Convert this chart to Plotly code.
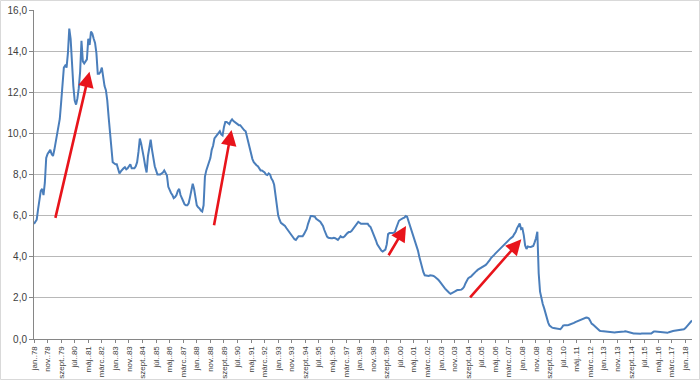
import plotly.graph_objects as go

# Monthly values, jan.1978 ... jun.2018
y1978 = [5.6, 5.7, 5.8, 6.3, 6.9, 7.2, 7.3, 7.0, 7.6, 8.8, 9.0, 9.1]
y1979 = [9.2, 9.0, 8.9, 9.2, 9.6, 10.0, 10.4, 10.7, 11.5, 12.4, 13.2, 13.3]
y1980 = [13.2, 13.9, 15.1, 14.6, 13.3, 12.3, 11.6, 11.4, 11.7, 12.2, 13.0, 14.5]
y1981 = [13.5, 13.4, 13.5, 13.6, 14.6, 14.3, 14.95, 14.85, 14.6, 14.4, 13.9, 12.9]
y1982 = [12.9, 13.0, 13.2, 12.7, 12.3, 12.1, 11.6, 10.8, 10.0, 9.3, 8.6, 8.55]
y1983 = [8.5, 8.5, 8.2, 8.05, 8.15, 8.25, 8.3, 8.35, 8.25, 8.3, 8.4, 8.5]
y1984 = [8.3, 8.3, 8.3, 8.4, 8.6, 9.1, 9.75, 9.5, 9.2, 8.8, 8.4, 8.1]
y1985 = [8.9, 9.4, 9.7, 9.2, 8.7, 8.4, 8.2, 8.0, 8.0, 8.0, 8.05, 8.1]
y1986 = [8.2, 8.1, 7.95, 7.4, 7.2, 7.1, 7.0, 6.85, 6.9, 7.0, 7.2, 7.3]
y1987 = [7.0, 6.8, 6.7, 6.55, 6.5, 6.5, 6.6, 6.9, 7.3, 7.55, 7.3, 6.9]
y1988 = [6.5, 6.4, 6.35, 6.25, 6.2, 6.5, 7.9, 8.2, 8.4, 8.6, 8.8, 9.2]
y1989 = [9.4, 9.75, 9.85, 9.9, 10.0, 10.1, 9.95, 9.9, 10.3, 10.55, 10.55, 10.5]
y1990 = [10.45, 10.6, 10.68, 10.6, 10.55, 10.5, 10.45, 10.4, 10.4, 10.3, 10.2, 10.15]
y1991 = [10.1, 9.8, 9.5, 9.2, 8.9, 8.75, 8.6, 8.5, 8.45, 8.4, 8.3, 8.2]
y1992 = [8.2, 8.15, 8.1, 8.0, 7.97, 8.05, 8.0, 7.8, 7.7, 7.5, 6.9, 6.45]
y1993 = [6.0, 5.8, 5.65, 5.6, 5.55, 5.5, 5.4, 5.3, 5.2, 5.1, 5.06, 4.95]
y1994 = [4.85, 4.82, 4.9, 5.0, 5.0, 5.0, 5.0, 5.1, 5.2, 5.35, 5.6, 5.85]
y1995 = [5.98, 5.98, 5.95, 5.95, 5.85, 5.8, 5.75, 5.7, 5.6, 5.5, 5.3, 5.1]
y1996 = [4.98, 4.92, 4.9, 4.9, 4.9, 4.92, 4.9, 4.85, 4.82, 4.9, 5.0, 4.95]
y1997 = [4.95, 5.0, 5.1, 5.15, 5.2, 5.2, 5.25, 5.35, 5.4, 5.5, 5.6, 5.7]
y1998 = [5.65, 5.6, 5.6, 5.6, 5.62, 5.62, 5.6, 5.5, 5.45, 5.3, 5.15, 5.0]
y1999 = [4.8, 4.6, 4.5, 4.38, 4.3, 4.25, 4.28, 4.35, 4.6, 5.1, 5.15, 5.14]
y2000 = [5.15, 5.17, 5.2, 5.4, 5.6, 5.75, 5.8, 5.85, 5.88, 5.9, 5.98, 5.95]
y2001 = [5.75, 5.5, 5.3, 5.1, 4.98, 4.75, 4.5, 4.3, 4.0, 3.7, 3.45, 3.25]
y2002 = [3.1, 3.08, 3.06, 3.07, 3.1, 3.1, 3.08, 3.05, 3.0, 2.95, 2.88, 2.8]
y2003 = [2.7, 2.62, 2.52, 2.45, 2.38, 2.3, 2.25, 2.2, 2.22, 2.27, 2.3, 2.35]
y2004 = [2.38, 2.38, 2.38, 2.4, 2.45, 2.54, 2.7, 2.87, 2.95, 3.0, 3.03, 3.1]
y2005 = [3.18, 3.25, 3.3, 3.36, 3.4, 3.42, 3.44, 3.48, 3.55, 3.6, 3.68, 3.75]
y2006 = [3.85, 3.95, 4.0, 4.08, 4.15, 4.22, 4.3, 4.36, 4.42, 4.5, 4.55, 4.6]
y2007 = [4.68, 4.75, 4.82, 4.88, 4.93, 4.98, 5.1, 5.2, 5.38, 5.5, 5.62, 5.35]
y2008 = [5.38, 5.05, 4.55, 4.38, 4.5, 4.48, 4.47, 4.5, 4.52, 4.7, 4.9, 5.22]
y2009 = [3.2, 2.3, 1.95, 1.7, 1.5, 1.25, 1.0, 0.8, 0.65, 0.58, 0.55, 0.53]
y2010 = [0.52, 0.5, 0.48, 0.47, 0.48, 0.55, 0.65, 0.67, 0.66, 0.67, 0.68, 0.7]
y2011 = [0.72, 0.74, 0.78, 0.82, 0.85, 0.88, 0.92, 0.95, 0.98, 1.01, 1.03, 1.04]
y2012 = [1.03, 1.0, 0.88, 0.75, 0.7, 0.63, 0.58, 0.5, 0.44, 0.4, 0.39, 0.38]
y2013 = [0.37, 0.36, 0.36, 0.35, 0.34, 0.33, 0.33, 0.33, 0.32, 0.33, 0.33, 0.34]
y2014 = [0.35, 0.36, 0.36, 0.36, 0.37, 0.35, 0.32, 0.3, 0.29, 0.28, 0.27, 0.27]
y2015 = [0.26, 0.26, 0.26, 0.26, 0.27, 0.27, 0.27, 0.26, 0.25, 0.24, 0.25, 0.27]
y2016 = [0.32, 0.37, 0.37, 0.36, 0.36, 0.35, 0.34, 0.33, 0.33, 0.32, 0.3, 0.3]
y2017 = [0.33, 0.36, 0.37, 0.39, 0.4, 0.41, 0.43, 0.44, 0.45, 0.46, 0.47, 0.47]
y2018 = [0.52, 0.6, 0.68, 0.78, 0.85, 0.9]

years = [y1978, y1979, y1980, y1981, y1982, y1983, y1984, y1985, y1986, y1987,
         y1988, y1989, y1990, y1991, y1992, y1993, y1994, y1995, y1996, y1997,
         y1998, y1999, y2000, y2001, y2002, y2003, y2004, y2005, y2006, y2007,
         y2008, y2009, y2010, y2011, y2012, y2013, y2014, y2015, y2016, y2017,
         y2018]

month_abbr = ["jan", "febr", "márc", "ápr", "máj", "jún",
              "júl", "aug", "szept", "okt", "nov", "dec"]
start_year = 1978
label_step = 10  # every 10th month is labelled

# Red arrows: (tail month index, tail value, head month index, head value)
arrows = [
    (15.5, 5.82, 40.9, 13.0),
    (132.5, 5.46, 145.6, 10.17),
    (260.7, 4.0, 274.2, 5.5),
    (320.5, 1.95, 359.2, 4.85),
]

values = [v for yr in years for v in yr]
n = len(values)
x_idx = list(range(n))
labels = []
for i in range(n):
    yy = (start_year + i // 12) % 100
    labels.append(f"{month_abbr[i % 12]}..{yy:02d}")

tickvals = list(range(0, n, label_step))
ticktext = [labels[i] for i in tickvals]

fig = go.Figure()
fig.add_trace(go.Scatter(
    x=x_idx, y=values, mode="lines",
    line=dict(color="#4A7EBB", width=2),
    text=labels, hoverinfo="text+y", showlegend=False,
))

for tx, ty, hx, hy in arrows:
    fig.add_annotation(
        x=hx, y=hy, ax=tx, ay=ty, xref="x", yref="y", axref="x", ayref="y",
        text="", showarrow=True, arrowhead=2, arrowsize=1.2,
        arrowwidth=2.6, arrowcolor="#E8141B", standoff=0, startstandoff=0,
    )

W, H = 700, 380
ml, mr, mt, mb = 34, 8, 10, 41
pw, ph = W - ml - mr, H - mt - mb
# light chart-area border around the whole picture
fig.add_shape(
    type="rect", xref="paper", yref="paper",
    x0=(-ml + 0.5) / pw, x1=1 + (mr - 0.5) / pw,
    y0=(-mb + 0.5) / ph, y1=1 + (mt - 0.5) / ph,
    line=dict(color="#D9D9D9", width=1), layer="below",
)

fig.update_layout(
    width=W, height=H,
    margin=dict(l=ml, r=mr, t=mt, b=mb, pad=0, autoexpand=False),
    paper_bgcolor="white", plot_bgcolor="white",
    separators=",.",
    font=dict(family="Liberation Sans, Arial, sans-serif", color="#404040"),
    showlegend=False,
)
fig.update_xaxes(
    range=[0, n - 1], tickmode="array", tickvals=tickvals, ticktext=ticktext,
    tickangle=-90, tickfont=dict(size=8, color="#404040"), automargin=False,
    showgrid=False, zeroline=False, showline=True, linecolor="#868686", linewidth=1,
    ticks="outside", ticklen=3, tickcolor="#868686",
)
fig.update_yaxes(
    range=[0, 16], dtick=2, tickformat=".1f", automargin=False,
    tickfont=dict(size=10, color="#404040"),
    showgrid=True, gridcolor="#B8B8B8", gridwidth=1, zeroline=False,
    showline=True, linecolor="#868686", linewidth=1,
    ticks="outside", ticklen=4, tickcolor="#868686",
)

fig.write_html(
    "out.html",
    config={"displayModeBar": False},
    post_script="document.body.style.margin='0';document.body.style.padding='0';",
)
